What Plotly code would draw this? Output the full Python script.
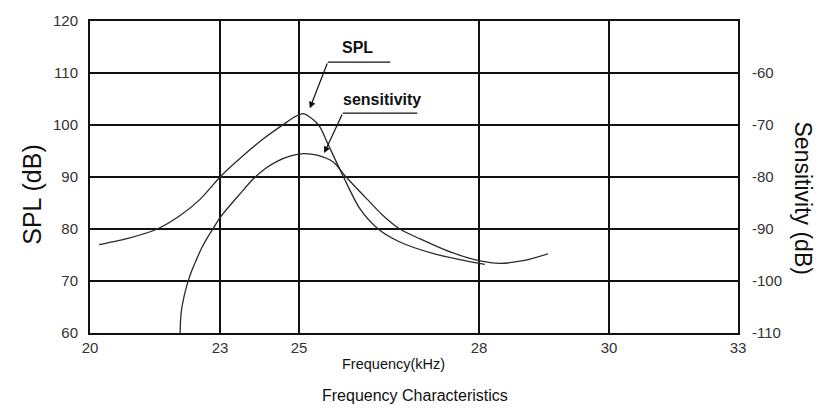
import numpy as np
import plotly.graph_objects as go

# ---- data -------------------------------------------------------------
FREQ_TICKS = [20, 23, 25, 28, 30, 33]            # kHz, as printed
FREQ_TICK_LABELS = ["20", "23", "25", "28", "30", "33"]
AXIS_STOPS = [0, 130, 209, 389, 519, 648]       # the printed axis is non-uniform

SPL_TICKS = [60, 70, 80, 90, 100, 110, 120]
SPL_TICK_LABELS = ["60", "70", "80", "90", "100", "110", "120"]
SENS_TICKS = [-110, -100, -90, -80, -70, -60]
SENS_TICK_LABELS = ["-110", "-100", "-90", "-80", "-70", "-60"]

SPL_FREQ = [20.21, 20.92, 21.55, 22.08, 22.54, 22.77, 23.0, 23.51, 24.09, 24.70, 24.90,
            25.07, 25.23, 25.35, 25.48, 25.73, 26.02, 26.32, 26.68, 27.23, 27.68, 28.09]
SPL_DB = [77.0, 78.3, 80.0, 82.6, 85.7, 87.8, 90.0, 93.6, 97.3, 100.6, 101.6,
          102.2, 101.1, 99.6, 96.4, 90.3, 83.8, 80.0, 77.5, 75.3, 74.1, 73.2]

SENS_FREQ = [22.08, 22.087, 22.10, 22.12, 22.17, 22.24, 22.33, 22.45, 22.58, 22.72,
             22.85, 23.0, 23.51, 23.84, 24.14, 24.47, 24.77, 25.08, 25.30, 25.57,
             25.77, 26.13, 26.40, 26.68, 27.02, 27.52, 28.0, 28.32, 28.68, 29.06]
SENS_DB = [-110.0, -108.1, -106.5, -105.1, -103.0, -100.7, -98.4, -96.0, -93.6, -91.5,
           -89.8, -87.8, -83.2, -80.4, -78.4, -76.9, -76.0, -75.5, -75.8, -77.1,
           -79.8, -84.2, -87.4, -90.0, -91.9, -94.4, -96.1, -96.6, -96.1, -94.8]


def fx(f):
    """Map kHz onto the chart's printed (piecewise) frequency scale."""
    return np.interp(f, FREQ_TICKS, AXIS_STOPS)


FONT = "Arial, 'Liberation Sans', sans-serif"
INK = "#111111"
CURVE = "#2a2a2a"

fig = go.Figure()
fig.add_trace(go.Scatter(x=fx(SPL_FREQ), y=SPL_DB, mode="lines", name="SPL",
                         line=dict(color=CURVE, width=1.3, shape="spline", smoothing=0.8),
                         yaxis="y"))
fig.add_trace(go.Scatter(x=fx(SENS_FREQ), y=SENS_DB, mode="lines", name="sensitivity",
                         line=dict(color=CURVE, width=1.3, shape="spline", smoothing=0.8),
                         yaxis="y2"))

# leader lines + labels
leaders = [
    # label, text pos (kHz, dB), tail (kHz, dB), shelf end kHz, tip (kHz, dB)
    ("SPL", (25.98, 115.0), (25.48, 112.1), 26.52, (25.18, 103.2)),
    ("sensitivity", (26.38, 104.9), (25.73, 102.3), 26.97, (25.42, 94.6)),
]
annotations = []
shapes = []
for label, (tfx, tdb), (afx, adb), endfx, (pfx, pdb) in leaders:
    annotations.append(dict(x=float(fx(tfx)), y=tdb, xref="x", yref="y",
                            text="<b>%s</b>" % label, xanchor="center", yanchor="middle",
                            showarrow=False, font=dict(family=FONT, size=16, color=INK)))
    annotations.append(dict(x=float(fx(pfx)), y=pdb, xref="x", yref="y", text="",
                            ax=float(fx(afx)), ay=adb, axref="x", ayref="y",
                            showarrow=True, arrowhead=2, arrowsize=1.1, arrowwidth=1.2,
                            arrowcolor=INK, standoff=0, startstandoff=0))
    shapes.append(dict(type="line", xref="x", yref="y", x0=float(fx(afx)), x1=float(fx(endfx)),
                       y0=adb, y1=adb, line=dict(color=INK, width=1.2)))

annotations += [
    dict(x=-0.0895, y=0.443, xref="paper", yref="paper", text="SPL (dB)", textangle=-90,
         xanchor="center", yanchor="middle",
         showarrow=False, font=dict(family=FONT, size=25, color=INK)),
    dict(x=1.1003, y=0.431, xref="paper", yref="paper", text="Sensitivity (dB)", textangle=90,
         xanchor="center", yanchor="middle",
         showarrow=False, font=dict(family=FONT, size=23, color=INK)),
    dict(x=0.469, y=-0.1006, xref="paper", yref="paper", text="Frequency(kHz)",
         xanchor="center", yanchor="middle",
         showarrow=False, font=dict(family=FONT, size=14.5, color=INK)),
    dict(x=0.5015, y=-0.201, xref="paper", yref="paper", text="Frequency Characteristics",
         xanchor="center", yanchor="middle",
         showarrow=False, font=dict(family=FONT, size=16, color=INK)),
]

fig.update_layout(
    width=821, height=412,
    margin=dict(l=90, r=83, t=15, b=79),
    paper_bgcolor="white", plot_bgcolor="white",
    showlegend=False,
    font=dict(family=FONT, color=INK),
    xaxis=dict(range=[AXIS_STOPS[0], AXIS_STOPS[-1]], tickvals=AXIS_STOPS,
               ticktext=FREQ_TICK_LABELS, showgrid=True, gridcolor=INK, gridwidth=1.5,
               showline=True, linecolor=INK, linewidth=2, mirror=True, zeroline=False,
               ticks="", ticklabelstandoff=0, tickfont=dict(size=15, color="#333")),
    yaxis=dict(range=[60, 120], tickvals=SPL_TICKS, ticktext=SPL_TICK_LABELS,
               showgrid=True, gridcolor=INK,
               gridwidth=1.5, showline=True, linecolor=INK, linewidth=2, mirror=True,
               zeroline=False, ticks="", ticklabelstandoff=7,
               tickfont=dict(size=15, color="#333")),
    yaxis2=dict(range=[-110, -50], tickvals=SENS_TICKS, ticktext=SENS_TICK_LABELS,
                overlaying="y", side="right",
                showgrid=False, zeroline=False, showline=False, ticks="",
                ticklabelstandoff=13, tickfont=dict(size=15, color="#333")),
    annotations=annotations,
    shapes=shapes,
)

fig.write_html("out.html", config={"displayModeBar": False},
               post_script="document.body.style.margin='0';")
